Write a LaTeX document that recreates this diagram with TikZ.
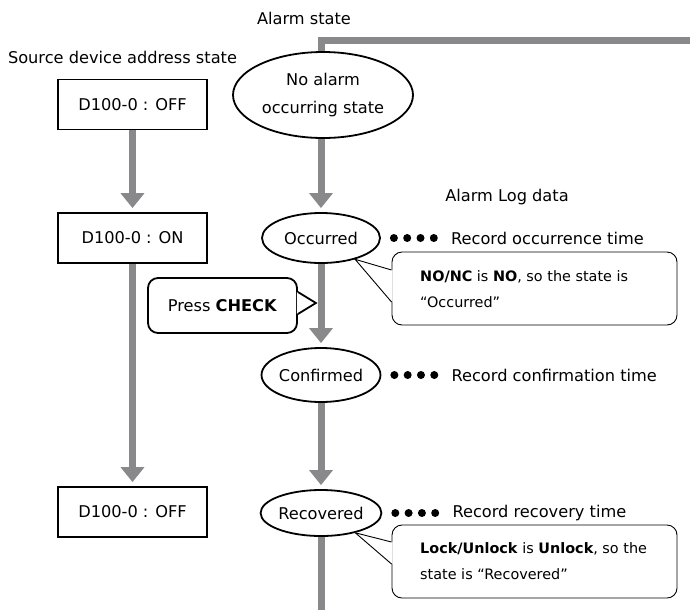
\documentclass[tikz,border=0pt]{standalone}
\usepackage{fontspec}
\setmainfont{DejaVu Sans}
\usetikzlibrary{arrows.meta, shapes.geometric}
\definecolor{flowgray}{RGB}{137,137,139}

\begin{document}
\begin{tikzpicture}[x=1pt,y=-1pt,
  every node/.style={font=\fontsize{16.2}{28}\selectfont},
  state/.style={ellipse, draw, line width=1.8pt, inner sep=0pt, align=center,
    minimum width=118pt, minimum height=50pt},
  devbox/.style={draw, line width=1.8pt, inner sep=0pt,
    minimum width=149pt, minimum height=50pt},
  callbox/.style={draw, line width=1.8pt, rounded corners=10pt, inner sep=0pt,
    minimum width=149pt, minimum height=55pt},
  note/.style={draw, line width=0.9pt, rounded corners=10pt, inner sep=0pt,
    minimum width=285pt, minimum height=73pt},
  notetext/.style={anchor=west, align=left, inner sep=0pt,
    font=\fontsize{14.4}{26}\selectfont},
  plain/.style={inner sep=0pt},
  flowline/.style={draw=flowgray, line width=7pt},
  flow/.style={flowline, -{Triangle[width=23pt,length=15pt]}, shorten >=4pt},
]
\useasboundingbox (0,0) rectangle (690,614);

% headings
\node[plain] (alarmhead) at (304,18) {Alarm state};
\node[plain] (srchead) at (122.5,57) {Source device address state};
\node[plain] (loghead) at (507,197) {Alarm Log data};

% source device address
\node[devbox] (dev1) at (132.5,104.5) {D100-0 : OFF};
\node[devbox] (dev2) at (132.5,238) {D100-0 : ON};
\node[devbox] (dev3) at (132.5,512) {D100-0 : OFF};
\draw[flow] (dev1) -- (dev2);
\draw[flow] (dev2) -- (dev3);

% alarm states
\node[state, minimum width=180pt, minimum height=86pt] (idle) at (323,95) {No alarm\\occurring state};
\node[state] (occ) at (321,238) {Occurred};
\node[state, minimum height=54pt] (conf) at (321,375) {Confirmed};
\node[state, minimum height=46pt] (rec) at (321,513) {Recovered};

\draw[flowline] (occ.north |- idle.north) |- (690,40);
\draw[flow] (occ.north |- idle.south) -- (occ);
\draw[flow] (occ) -- (conf);
\draw[flow] (conf) -- (rec);
\draw[flowline] (rec.south) -- (rec.south |- 0,610);

% log data
\foreach \st/\txt in {occ/Record occurrence time, conf/Record confirmation time, rec/Record recovery time}{
  \foreach \i in {0,...,3}
    \fill ([xshift=13pt+\i*13.3pt]\st.east) circle (4pt);
  \node[plain, anchor=west] (\st-log) at ([xshift=70pt]\st.east) {\txt};
}

% press CHECK
\node[callbox] (press) at (222.5,305.5) {Press \textbf{CHECK}};
\coordinate (presstip) at ([xshift=18pt,yshift=2.5pt]press.east);
\fill[white] ([xshift=-1pt,yshift=13.5pt]press.east) -- (presstip) -- ([xshift=-1pt,yshift=-8.5pt]press.east) -- cycle;
\draw[line width=1.8pt] ([yshift=13.5pt]press.east) -- (presstip) -- ([yshift=-8.5pt]press.east);

% notes
\node[note] (occnote) at (534.5,288.5) {};
\node[notetext] (occnotetxt) at (420,289.5) {\textbf{NO/NC} is \textbf{NO}, so the state is\\“Occurred”};
\coordinate (occtip) at (occ.-32);
\fill[white] (occtip) -- ([xshift=1pt,yshift=18.5pt]occnote.west) -- ([xshift=1pt,yshift=-13.5pt]occnote.west) -- cycle;
\draw[line width=0.9pt] ([yshift=18.5pt]occnote.west) -- (occtip) -- ([yshift=-13.5pt]occnote.west);

\node[note] (recnote) at (534.5,561.5) {};
\node[notetext] (recnotetxt) at (420,561.5) {\textbf{Lock/Unlock} is \textbf{Unlock}, so the\\state is “Recovered”};
\coordinate (rectip) at (rec.-30);
\fill[white] (rectip) -- ([xshift=1pt,yshift=19.5pt]recnote.west) -- ([xshift=1pt,yshift=-2.5pt]recnote.west) -- cycle;
\draw[line width=0.9pt] ([yshift=19.5pt]recnote.west) -- (rectip) -- ([yshift=-2.5pt]recnote.west);
\end{tikzpicture}
\end{document}
